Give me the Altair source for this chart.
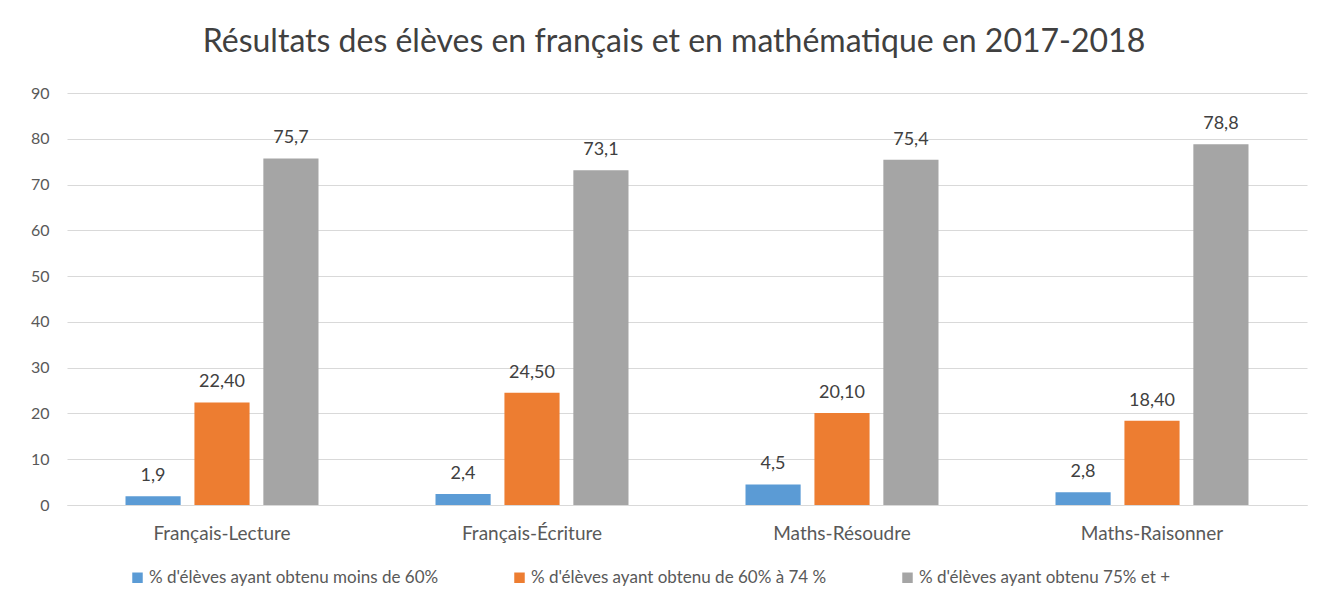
import altair as alt
import pandas as pd

categories = ["Français-Lecture", "Français-Écriture", "Maths-Résoudre", "Maths-Raisonner"]
series = [
    "% d'élèves ayant obtenu moins de 60%",
    "% d'élèves ayant obtenu de 60% à 74 %",
    "% d'élèves ayant obtenu 75% et +",
]
values_low = [1.9, 2.4, 4.5, 2.8]
values_mid = [22.4, 24.5, 20.1, 18.4]
values_high = [75.7, 73.1, 75.4, 78.8]
labels_low = ["1,9", "2,4", "4,5", "2,8"]
labels_mid = ["22,40", "24,50", "20,10", "18,40"]
labels_high = ["75,7", "73,1", "75,4", "78,8"]
colors = ["#5B9BD5", "#ED7D31", "#A5A5A5"]

rows = []
for s, vals, labs in zip(series, [values_low, values_mid, values_high], [labels_low, labels_mid, labels_high]):
    for c, v, l in zip(categories, vals, labs):
        rows.append({"cat": c, "serie": s, "val": v, "lab": l})
df = pd.DataFrame(rows)

FONT = "Lato"
TXT = "#595959"

x = alt.X("cat:N", sort=categories, title=None,
          scale=alt.Scale(paddingInner=0.333, paddingOuter=0.1665),
          axis=alt.Axis(labelAngle=0, labelFontSize=19, labelColor=TXT, labelFont=FONT,
                        ticks=False, grid=False, domainColor="#D9D9D9", labelPadding=19))
xo = alt.XOffset("serie:N", sort=series, scale=alt.Scale(paddingInner=0.2, paddingOuter=0.1))
y = alt.Y("val:Q", title=None,
          scale=alt.Scale(domain=[0, 90]),
          axis=alt.Axis(values=list(range(0, 91, 10)), labelFontSize=16, labelColor=TXT, labelFont=FONT,
                        ticks=False, domain=False, gridColor="#D9D9D9", labelPadding=18))

bars = alt.Chart(df).mark_bar().encode(
    x=x, xOffset=xo, y=y,
    color=alt.Color("serie:N", sort=series, scale=alt.Scale(domain=series, range=colors),
                    legend=alt.Legend(title=None, orient="none", direction="horizontal",
                                      legendX=62, legendY=476, symbolType="square", symbolSize=110,
                                      symbolStrokeWidth=0, labelFontSize=17, labelColor=TXT, labelFont=FONT,
                                      columnPadding=72, labelOffset=3, labelLimit=500)),
)
text = alt.Chart(df).mark_text(baseline="bottom", dy=-11, fontSize=18, color="#404040", font=FONT).encode(
    x=x, xOffset=xo, y=y, text="lab:N"
)

chart = alt.layer(bars, text).properties(
    width=1240, height=412,
    autosize=alt.AutoSizeParams(type="none"),
    padding={"left": 59, "top": 85, "right": 23, "bottom": 100},
    title=alt.Title("Résultats des élèves en français et en mathématique en 2017-2018",
                    fontSize=32, font=FONT, color="#404040", fontWeight="normal", offset=26, dx=-13),
).configure(background="white").configure_view(stroke=None)

chart.save("out.html", embed_options={"renderer": "svg", "actions": False})
